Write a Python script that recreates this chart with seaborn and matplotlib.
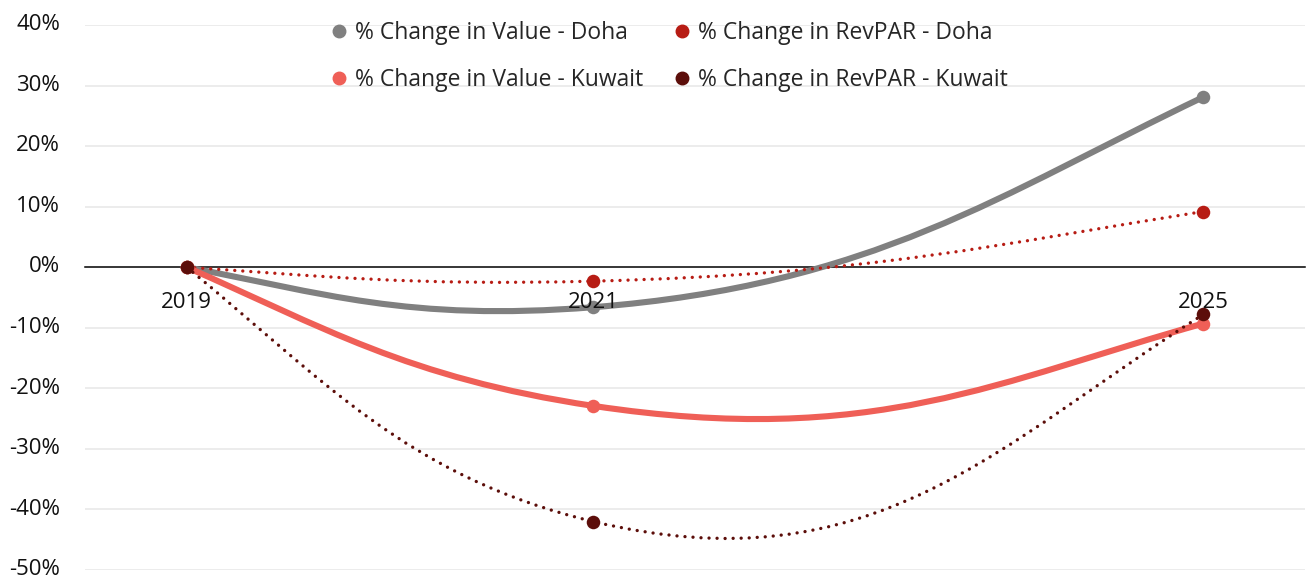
import matplotlib.pyplot as plt
import numpy as np
import seaborn as sns
from matplotlib.path import Path
from matplotlib.patches import PathPatch
from matplotlib.lines import Line2D
from matplotlib.transforms import ScaledTranslation

# data (percent change vs 2019)
years = ['2019', '2021', '2025']
year_slots = [0, 2, 5]          # position of each year on a 6-slot category axis
value_doha = [0.0, -6.6, 28.1]
revpar_doha = [0.0, -2.3, 9.2]
value_kuwait = [0.0, -22.9, -9.3]
revpar_kuwait = [0.0, -42.0, -7.8]
y_ticks = [-50, -40, -30, -20, -10, 0, 10, 20, 30, 40]

labels = ['% Change in Value - Doha', '% Change in RevPAR - Doha',
          '% Change in Value - Kuwait', '% Change in RevPAR - Kuwait']
colors = ['#808080', '#B71C14', '#EF5F57', '#5C0E0A']


def smooth_path(xs, ys, inner=0.46):
    # spline through the points (natural end conditions), drawn as bezier
    # segments; handles at inner points are a bit longer, like Excel's smoothing
    xs = np.asarray(xs, float)
    ys = np.asarray(ys, float)
    n = len(xs)
    h = np.diff(xs)
    A = np.zeros((n, n))
    b = np.zeros(n)
    A[0, 0] = A[-1, -1] = 1
    for i in range(1, n - 1):
        A[i, i - 1] = h[i - 1]
        A[i, i] = 2 * (h[i - 1] + h[i])
        A[i, i + 1] = h[i]
        b[i] = 6 * ((ys[i + 1] - ys[i]) / h[i] - (ys[i] - ys[i - 1]) / h[i - 1])
    M = np.linalg.solve(A, b)
    verts = [(xs[0], ys[0])]
    codes = [Path.MOVETO]
    for i in range(n - 1):
        s = (ys[i + 1] - ys[i]) / h[i]
        d0 = s - h[i] * (2 * M[i] + M[i + 1]) / 6
        d1 = s + h[i] * (M[i] + 2 * M[i + 1]) / 6
        l0 = h[i] * (inner if i > 0 else 1 / 3)
        l1 = h[i] * (inner if i + 1 < n - 1 else 1 / 3)
        verts += [(xs[i] + l0, ys[i] + d0 * l0),
                  (xs[i + 1] - l1, ys[i + 1] - d1 * l1),
                  (xs[i + 1], ys[i + 1])]
        codes += [Path.CURVE4] * 3
    return Path(verts, codes)


sns.set_theme(style='white')
plt.rcParams['font.family'] = ['Open Sans', 'DejaVu Sans']

fig = plt.figure(figsize=(13.1, 5.8), dpi=100)
ax = fig.add_axes([85 / 1310, 10 / 580, 1220 / 1310, 545 / 580])

for t in y_ticks:
    if t != 0:
        ax.axhline(t, color='#EBEBEB', lw=1.3, zorder=0.5)

series = [value_doha, revpar_doha, value_kuwait, revpar_kuwait]
widths = [4.4, 2.4, 4.4, 2.4]
dotted = [False, True, False, True]
for k, (vals, c, w, d) in enumerate(zip(series, colors, widths, dotted)):
    patch = PathPatch(smooth_path(year_slots, vals), fill=False, edgecolor=c,
                      lw=w, zorder=1.6 + k * 0.1, capstyle='round',
                      linestyle=(0, (0.01, 2.4)) if d else '-')
    ax.add_patch(patch)
    sns.scatterplot(x=year_slots, y=vals, color=c, s=95, linewidth=0,
                    ax=ax, zorder=1.65 + k * 0.1, legend=False)

ax.set_xlim(-0.5, 5.5)
ax.set_ylim(-50, 40)
ax.set_yticks(y_ticks)
ax.set_yticklabels([f'{t}%' for t in y_ticks])
ax.set_xticks(year_slots)
ax.set_xticklabels(years)
ax.tick_params(axis='x', length=0, pad=18, labelsize=16, colors='#111111')
ax.tick_params(axis='y', length=0, pad=18, labelsize=16, colors='#111111')
ax.set_axisbelow(False)
# nudge y labels up a touch so the bottom one stays inside the figure
for lab in ax.get_yticklabels():
    lab.set_transform(lab.get_transform() + ScaledTranslation(0, 2 / 72, fig.dpi_scale_trans))

for side in ['top', 'left', 'right']:
    ax.spines[side].set_visible(False)
ax.spines['bottom'].set_position(('data', 0))
ax.spines['bottom'].set_color('black')
ax.spines['bottom'].set_linewidth(1.1)
ax.spines['bottom'].set_zorder(1.5)

handles = [Line2D([], [], marker='o', linestyle='none', color=c, markersize=9)
           for c in colors]
order = [0, 2, 1, 3]
fig.legend([handles[i] for i in order], [labels[i] for i in order],
           loc='upper center', bbox_to_anchor=(670 / 1310, 1 - 12 / 580),
           ncol=2, frameon=False, fontsize=16.5, handlelength=0.6,
           handletextpad=0.4, columnspacing=1.4, labelspacing=1.0,
           borderaxespad=0)

fig.savefig('out.png', dpi=100)
